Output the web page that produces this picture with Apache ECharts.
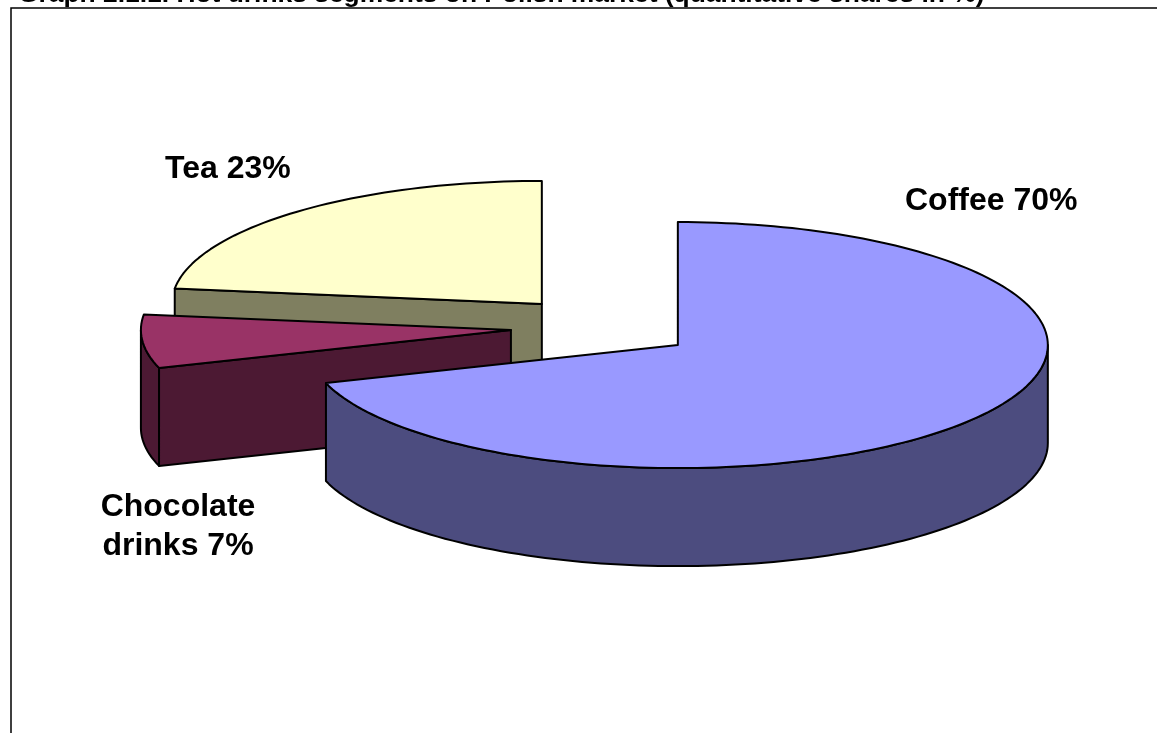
<!DOCTYPE html>
<html>
<head>
<meta charset="utf-8">
<script src="https://cdn.jsdelivr.net/npm/echarts@6/dist/echarts.min.js"></script>
<style>
  html, body { margin: 0; padding: 0; background: #fff; }
  #chart { width: 1157px; height: 733px; }
</style>
</head>
<body>
<div id="chart"></div>
<script>
// Hot drinks segments, quantitative shares in %
const segments = ['Coffee', 'Chocolate drinks', 'Tea'];
const shares = [70, 7, 23];
const titleText = 'Graph 2.1.1. Hot drinks segments on Polish market (quantitative shares in %)';

// face colours: top face and the shaded side walls
const topColors = ['#9999FF', '#993366', '#FFFFCC'];
const sideColors = ['#4C4C7F', '#4C1933', '#7F7F60'];

// projected geometry of the tilted pie
const PIE = { cx: 603, cy: 327, rx: 370, ry: 123, depth: 98, explode: 0.25 };
const LABEL_FONT = 'bold 32px "Liberation Sans", Arial, sans-serif';

const total = shares.reduce((a, b) => a + b, 0);
const startAngles = [];
(function () {
  let acc = 0;
  shares.forEach(v => { startAngles.push(acc / total * 360); acc += v; });
})();

// angle in degrees, clockwise from 12 o'clock
function rimPoint(cx, cy, deg, dy) {
  const r = deg * Math.PI / 180;
  return [cx + PIE.rx * Math.sin(r), cy - PIE.ry * Math.cos(r) + (dy || 0)];
}
function rimArc(cx, cy, a0, a1, dy) {
  const n = Math.max(2, Math.ceil(Math.abs(a1 - a0) / 1.5));
  const pts = [];
  for (let k = 0; k <= n; k++) pts.push(rimPoint(cx, cy, a0 + (a1 - a0) * k / n, dy));
  return pts;
}

function renderSlice(params, api) {
  const i = params.dataIndex;
  const value = api.value(0);
  const a0 = startAngles[i];
  const a1 = a0 + value / total * 360;
  const mid = (a0 + a1) / 2 * Math.PI / 180;
  const cx = PIE.cx + PIE.explode * PIE.rx * Math.sin(mid);
  const cy = PIE.cy - PIE.explode * PIE.ry * Math.cos(mid);
  const d = PIE.depth;
  const base = Math.round(cy) * 10;          // slices further back are painted first
  const line = { stroke: '#000', lineWidth: 2, lineJoin: 'round' };
  const side = sideColors[i];
  const children = [];

  // radial cut faces that turn towards the viewer
  [[a0, a0 - 90], [a1, a1 + 90]].forEach(([a, normal]) => {
    if (Math.cos(normal * Math.PI / 180) < -1e-6) {
      const p = rimPoint(cx, cy, a);
      const q = rimPoint(cx, cy, a, d);
      children.push({
        type: 'polygon', z2: base + 1,
        shape: { points: [[cx, cy], p, q, [cx, cy + d]] },
        style: Object.assign({ fill: side }, line)
      });
    }
  });

  // curved outer wall on the front half (3 o'clock to 9 o'clock)
  const w0 = Math.max(a0, 90), w1 = Math.min(a1, 270);
  if (w1 > w0) {
    const pts = rimArc(cx, cy, w0, w1).concat(rimArc(cx, cy, w0, w1, d).reverse());
    children.push({
      type: 'polygon', z2: base + 2,
      shape: { points: pts },
      style: Object.assign({ fill: side }, line)
    });
  }

  // top face
  children.push({
    type: 'polygon', z2: base + 3,
    shape: { points: [[cx, cy]].concat(rimArc(cx, cy, a0, a1)) },
    style: Object.assign({ fill: topColors[i] }, line)
  });

  return { type: 'group', children: children };
}

function labelText(i) {
  return segments[i].replace(' ', '\n') + ' ' + shares[i] + '%';
}

const chart = echarts.init(document.getElementById('chart'), null, { renderer: 'canvas' });
chart.setOption({
  animation: false,
  backgroundColor: '#fff',
  graphic: [
    {
      type: 'rect', z: -1, silent: true,
      shape: { x: 11, y: 8, width: 1400, height: 1000 },
      style: { fill: '#fff', stroke: '#000', lineWidth: 1.5 }
    },
    {
      type: 'text', z: 0, silent: true, x: 18, y: -5,
      style: { text: titleText, font: 'bold 26.4px "Liberation Sans", Arial, sans-serif',
               fill: '#000', align: 'left', verticalAlign: 'middle' }
    },
    {
      type: 'text', silent: true, x: 165, y: 169,
      style: { text: labelText(2), font: LABEL_FONT, fill: '#000', align: 'left', verticalAlign: 'middle' }
    },
    {
      type: 'text', silent: true, x: 905, y: 201,
      style: { text: labelText(0), font: LABEL_FONT, fill: '#000', align: 'left', verticalAlign: 'middle' }
    },
    {
      type: 'text', silent: true, x: 178, y: 527,
      style: { text: labelText(1), font: LABEL_FONT, lineHeight: 39, fill: '#000',
               align: 'center', verticalAlign: 'middle' }
    }
  ],
  series: [{
    type: 'custom',
    coordinateSystem: 'none',
    silent: true,
    z: 2,
    renderItem: renderSlice,
    data: shares.map((v, i) => ({ name: segments[i], value: [v] }))
  }]
});
</script>
</body>
</html>
